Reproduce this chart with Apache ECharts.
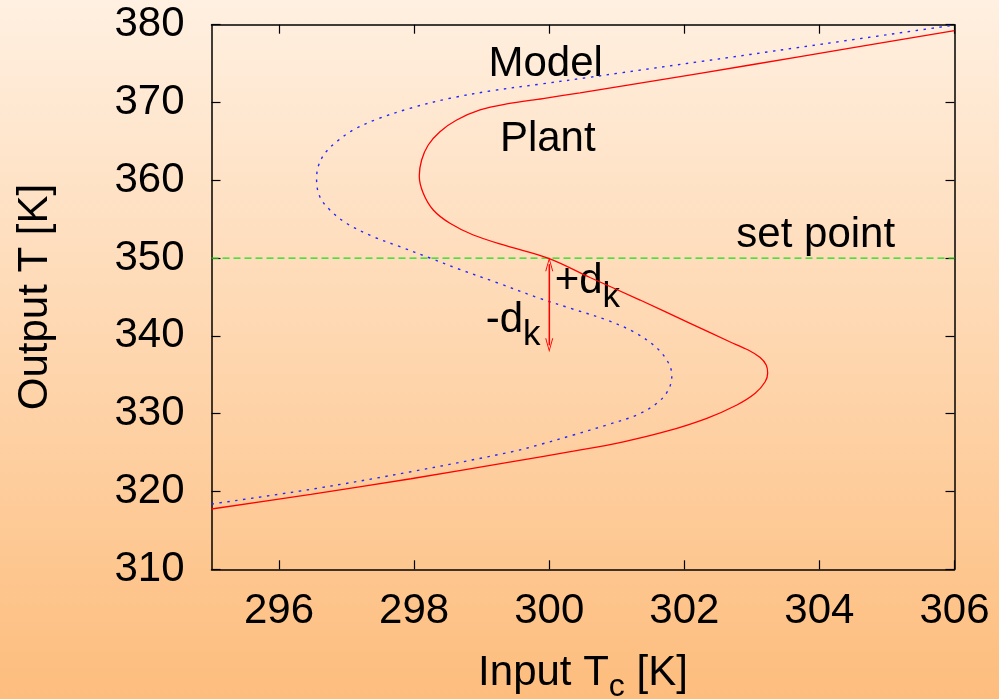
<!DOCTYPE html>
<html>
<head>
<meta charset="utf-8">
<script src="https://cdn.jsdelivr.net/npm/echarts@6/dist/echarts.min.js"></script>
<style>
  html, body { margin: 0; padding: 0; }
  #main { width: 999px; height: 699px; }
</style>
</head>
<body>
<div id="main"></div>
<script>
// plant steady state curve (red, solid): [Tc, T], read along the S
var plantCurve = [
  [295.0, 317.75], [296.471, 319.64], [297.953, 321.64], [299.434, 323.82], [300.357, 325.18],
  [301.098, 326.39], [301.741, 327.75], [302.333, 329.41], [302.778, 331.12], [303.049, 332.62],
  [303.197, 334.11], [303.234, 335.23], [303.212, 336.26], [303.123, 337.22], [302.946, 338.19],
  [302.664, 339.28], [302.086, 341.62], [301.345, 344.61], [300.604, 347.51], [300.0, 349.94],
  [299.37, 351.56], [298.876, 352.97], [298.53, 354.47], [298.283, 356.18], [298.135, 358.33],
  [298.076, 360.55], [298.111, 362.61], [298.209, 364.54], [298.382, 366.25], [298.63, 367.75],
  [298.975, 369.04], [299.37, 369.81], [299.908, 370.51], [300.456, 371.24], [301.049, 372.07],
  [302.234, 373.75], [303.715, 375.9], [306.0, 379.23]
];
// model curve (blue, dotted)
var modelCurve = [
  [295.0, 318.39], [296.471, 320.28], [297.953, 322.54], [299.434, 325.08], [299.864, 326.04],
  [300.357, 327.26], [300.852, 328.55], [301.296, 329.83], [301.593, 331.34], [301.764, 333.05],
  [301.815, 334.97], [301.741, 336.9], [301.542, 338.83], [301.246, 340.54], [300.852, 342.04],
  [300.357, 343.43], [299.864, 344.81], [299.241, 346.8], [298.63, 348.69], [298.234, 350.01],
  [297.79, 351.47], [297.394, 352.75], [297.0, 354.47], [296.753, 356.18], [296.604, 357.89],
  [296.556, 360.04], [296.579, 361.75], [296.679, 363.47], [296.852, 364.96], [297.098, 366.47],
  [297.444, 367.84], [297.938, 369.25], [298.53, 370.54], [299.172, 371.54], [299.864, 372.36],
  [300.556, 373.19], [301.049, 373.8], [302.234, 375.26], [303.715, 377.1], [306.0, 379.96]
];
var setPoint = [[295, 350], [306, 350]];
var dkArrow = [[300, 349.2], [300, 338.8]];

var xTicks = [296, 298, 300, 302, 304, 306];

// text notes: [Tc, T, text]  (top-left of the text box)
var notes = [
  [299.1, 377.6, 'Model'],
  [299.27, 367.9, 'Plant'],
  [302.77, 355.67, 'set point'],
  [300.08, 349.67, '+d{k|k}'],
  [299.06, 344.74, '-d{k|k}']
];

var FONT = '"Liberation Sans", Arial, Helvetica, sans-serif';
var chart = echarts.init(document.getElementById('main'));

var textRich = {
  k: { fontSize: 35, lineHeight: 35, padding: [19, 0, 0, 0], verticalAlign: 'top', fontFamily: FONT, color: '#000' },
  c: { fontSize: 32, lineHeight: 32, padding: [19, 0, 0, 0], verticalAlign: 'top', fontFamily: FONT, color: '#000' },
  m: { fontSize: 42, lineHeight: 42, verticalAlign: 'top', fontFamily: FONT, color: '#000' }
};

var option = {
  animation: false,
  backgroundColor: {
    type: 'linear', x: 0, y: 0, x2: 0, y2: 1,
    colorStops: [
      { offset: 0, color: '#fff0e1' },
      { offset: 1, color: '#fdbd7d' }
    ]
  },
  textStyle: { fontFamily: FONT },
  grid: { left: 211.5, right: 44.5, top: 24.7, bottom: 129.7, outerBoundsMode: 'none' },
  xAxis: [{
    type: 'value', min: 295, max: 306,
    name: '{m|Input T}{c|c}{m| [K]}',
    nameLocation: 'middle', nameGap: 83,
    nameTextStyle: { rich: textRich },
    axisLine: { show: true, lineStyle: { color: '#000', width: 1.5 } },
    axisTick: { show: true, inside: true, length: 9, customValues: xTicks, lineStyle: { color: '#000', width: 1.2 } },
    axisLabel: { customValues: xTicks, margin: 21, fontSize: 42, lineHeight: 42, color: '#000', fontFamily: FONT },
    splitLine: { show: false }
  }, {
    type: 'value', min: 295, max: 306, position: 'top',
    axisLine: { show: true, onZero: false, lineStyle: { color: '#000', width: 1.5 } },
    axisTick: { show: true, inside: true, length: 9, customValues: xTicks, lineStyle: { color: '#000', width: 1.2 } },
    axisLabel: { show: false },
    splitLine: { show: false }
  }],
  yAxis: [{
    type: 'value', min: 310, max: 380, interval: 10,
    name: 'Output T [K]',
    nameLocation: 'middle', nameGap: 155,
    nameTextStyle: { fontSize: 42, lineHeight: 42, color: '#000', fontFamily: FONT },
    axisLine: { show: true, lineStyle: { color: '#000', width: 1.5 } },
    axisTick: { show: true, inside: true, length: 9, lineStyle: { color: '#000', width: 1.2 } },
    axisLabel: { margin: 27, fontSize: 42, lineHeight: 42, color: '#000', fontFamily: FONT },
    splitLine: { show: false }
  }, {
    type: 'value', min: 310, max: 380, interval: 10, position: 'right',
    axisLine: { show: true, onZero: false, lineStyle: { color: '#000', width: 1.5 } },
    axisTick: { show: true, inside: true, length: 9, lineStyle: { color: '#000', width: 1.2 } },
    axisLabel: { show: false },
    splitLine: { show: false }
  }],
  series: [{
    name: 'set point', type: 'line', data: setPoint, symbol: 'none',
    lineStyle: { color: '#14e014', width: 1.3, type: [7, 4] }
  }, {
    name: 'Model', type: 'line', data: modelCurve, symbol: 'none', smooth: 0.35,
    lineStyle: { color: '#2626ff', width: 1.4, type: [2.5, 5.5] }
  }, {
    name: 'Plant', type: 'line', data: plantCurve, symbol: 'none', smooth: 0.35,
    lineStyle: { color: '#ff0000', width: 1.3 }
  }, {
    name: 'dk', type: 'line', data: dkArrow, symbol: 'none',
    lineStyle: { color: '#ff0000', width: 1.2 },
    markLine: {
      silent: true,
      symbol: ['path://M0,14L4,0L8,14L7,14L4,3L1,14Z', 'path://M0,14L4,0L8,14L7,14L4,3L1,14Z'],
      symbolSize: [8, 14],
      label: { show: false },
      lineStyle: { color: '#ff0000', width: 1.2, type: 'solid' },
      data: [[{ coord: dkArrow[0] }, { coord: dkArrow[1] }]]
    }
  }, {
    name: 'notes', type: 'scatter', symbolSize: 0, silent: true,
    itemStyle: { opacity: 1 },
    data: notes,
    label: {
      show: true, opacity: 1, color: '#000',
      position: [0, 0], align: 'left', verticalAlign: 'top',
      formatter: function (p) {
        var t = p.value[2];
        return t.indexOf('{') >= 0 ? t.replace(/^([^{]+)/, '{m|$1}') : '{m|' + t + '}';
      },
      rich: textRich
    }
  }]
};
chart.setOption(option);
</script>
</body>
</html>
